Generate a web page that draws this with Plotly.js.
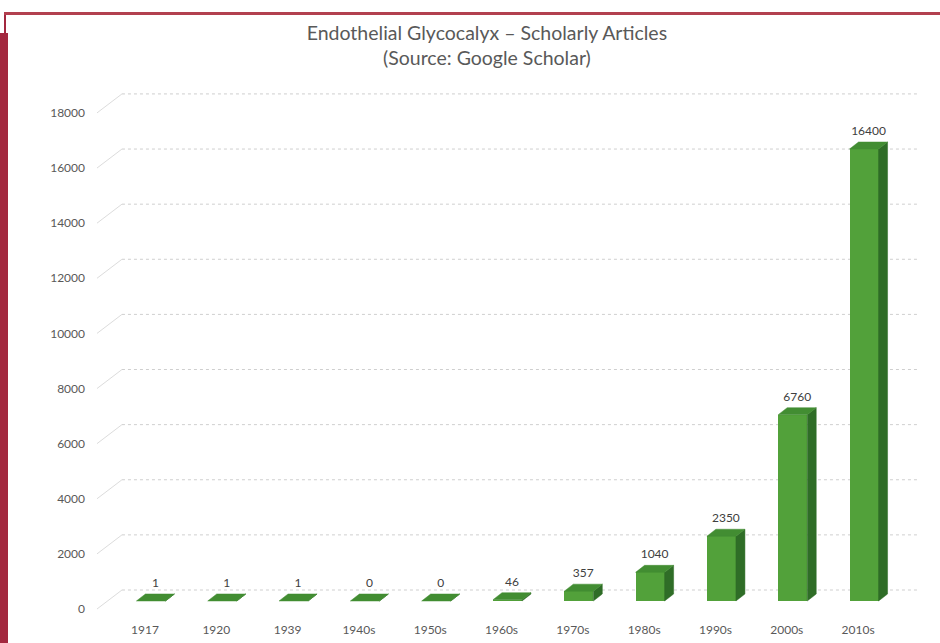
<!DOCTYPE html>
<html>
<head>
<meta charset="utf-8">
<script src="https://cdn.plot.ly/plotly-3.0.1.min.js"></script>
<style>html,body{margin:0;padding:0;background:#fff;}#chart{width:940px;height:643px;}</style>
</head>
<body>
<div id="chart"></div>
<script>
// ---- data ----
const categories = ['1917','1920','1939','1940s','1950s','1960s','1970s','1980s','1990s','2000s','2010s'];
const articles = [1, 1, 1, 0, 0, 46, 357, 1040, 2350, 6760, 16400];
const yTicks = [0, 2000, 4000, 6000, 8000, 10000, 12000, 14000, 16000, 18000];
const yTickText = ['0', '2000', '4000', '6000', '8000', '10000', '12000', '14000', '16000', '18000'];
const labelText = ['1', '1', '1', '0', '0', '46', '357', '1040', '2350', '6760', '16400'];

// ---- layout constants ----
const L = 95, R = 22, T = 85, B = 27, FW = 940, FH = 643;
const W = FW - L - R, H = FH - T - B;
const xRange = [-0.701, 10.84];
const yRange = [-254, 19013];
const unitsPerPx = (yRange[1] - yRange[0]) / H;
const barShiftPx = 8;                 // bars sit mid-depth of the floor
const y2Range = [yRange[0] - barShiftPx * unitsPerPx, yRange[1] - barShiftPx * unitsPerPx];
const wallShift = 19 * unitsPerPx;    // back wall offset (units)
const barW = 0.407, barOff = -0.12;   // front face width/offset
const dX = 0.126, dY = 7 * unitsPerPx; // depth of bars
const labelGap = 4 * unitsPerPx;

const idx = categories.map((c, i) => i);

// gridlines (back wall) + diagonal connectors from front labels
const gx = [], gy = [], dxs = [], dys = [];
yTicks.forEach(v => {
  gx.push(-0.323, xRange[1], null); gy.push(v + wallShift, v + wallShift, null);
  dxs.push(-0.673, -0.323, null); dys.push(v, v + wallShift, null);
});

// side & top faces of bars
const sx = [], sy = [], tx = [], ty = [];
idx.forEach(i => {
  const v = articles[i];
  const xl = i + barOff, xr = xl + barW;
  sx.push(xr, xr + dX, xr + dX, xr, xr, null);
  sy.push(0, dY, v + dY, v, 0, null);
  tx.push(xl, xl + dX, xr + dX, xr, xl, null);
  ty.push(v, v + dY, v + dY, v, v, null);
});

const traces = [
  {type: 'scatter', mode: 'lines', x: dxs, y: dys, xaxis: 'x', yaxis: 'y',
   line: {color: '#dcdcdc', width: 1}, hoverinfo: 'skip', showlegend: false},
  {type: 'scatter', mode: 'lines', x: gx, y: gy, xaxis: 'x', yaxis: 'y',
   line: {color: '#cfcfcf', width: 1, dash: 'dot'}, hoverinfo: 'skip', showlegend: false},
  {type: 'bar', x: idx, y: articles, xaxis: 'x', yaxis: 'y2', width: barW, offset: barOff,
   marker: {color: '#52a13a', line: {width: 0}}, hoverinfo: 'skip', showlegend: false},
  {type: 'scatter', mode: 'lines', x: sx, y: sy, xaxis: 'x', yaxis: 'y2', fill: 'toself',
   fillcolor: '#2f6d27', line: {color: '#2f6d27', width: 0.5}, hoverinfo: 'skip', showlegend: false},
  {type: 'scatter', mode: 'lines', x: tx, y: ty, xaxis: 'x', yaxis: 'y2', fill: 'toself',
   fillcolor: '#428d32', line: {color: '#428d32', width: 0.5}, hoverinfo: 'skip', showlegend: false},
  {type: 'scatter', mode: 'text', x: idx.map(i => i + barOff + barW / 2 + dX / 2),
   y: articles.map(v => v + dY + labelGap), text: labelText, textposition: 'top center',
   textfont: {family: 'Lato, sans-serif', size: 12, color: '#404040'},
   xaxis: 'x', yaxis: 'y2', hoverinfo: 'skip', showlegend: false}
];

const pxX = x => (x - L) / W;
const pxY = y => 1 - (y - T) / H;
const border = '#a3283f';

const layout = {
  width: FW, height: FH,
  margin: {l: L, r: R, t: T, b: B},
  paper_bgcolor: '#ffffff', plot_bgcolor: 'rgba(0,0,0,0)',
  font: {family: 'Lato, sans-serif', color: '#595959', size: 12},
  title: {text: 'Endothelial Glycocalyx – Scholarly Articles<br>(Source: Google Scholar)',
    font: {family: 'Lato, sans-serif', size: 19.5, color: '#595959'},
    x: 0.518, xanchor: 'center', xref: 'container', y: 1 - 40 / FH, yanchor: 'top', yref: 'container'},
  xaxis: {range: xRange, tickmode: 'array', tickvals: idx, ticktext: categories,
    showgrid: false, zeroline: false, showline: false, ticks: '', ticklabelstandoff: 5, fixedrange: true,
    tickfont: {size: 12, color: '#595959'}},
  yaxis: {range: yRange, tickmode: 'array', tickvals: yTicks, ticktext: yTickText, showgrid: false, zeroline: false,
    showline: false, ticks: '', ticklabelstandoff: 9, fixedrange: true,
    tickfont: {size: 12, color: '#595959'}},
  yaxis2: {range: y2Range, overlaying: 'y', visible: false, fixedrange: true},
  bargap: 0,
  shapes: [
    {type: 'rect', xref: 'paper', yref: 'paper', x0: pxX(0), x1: pxX(8), y0: pxY(33), y1: pxY(643),
     fillcolor: border, line: {width: 0}, layer: 'above'},
    {type: 'rect', xref: 'paper', yref: 'paper', x0: pxX(4), x1: pxX(6), y0: pxY(12), y1: pxY(33),
     fillcolor: border, line: {width: 0}, layer: 'above'},
    {type: 'rect', xref: 'paper', yref: 'paper', x0: pxX(4), x1: pxX(940), y0: pxY(15), y1: pxY(12),
     fillcolor: '#b2404f', line: {width: 0}, layer: 'above'}
  ]
};

Plotly.newPlot('chart', traces, layout, {displayModeBar: false, staticPlot: true});
</script>
</body>
</html>
